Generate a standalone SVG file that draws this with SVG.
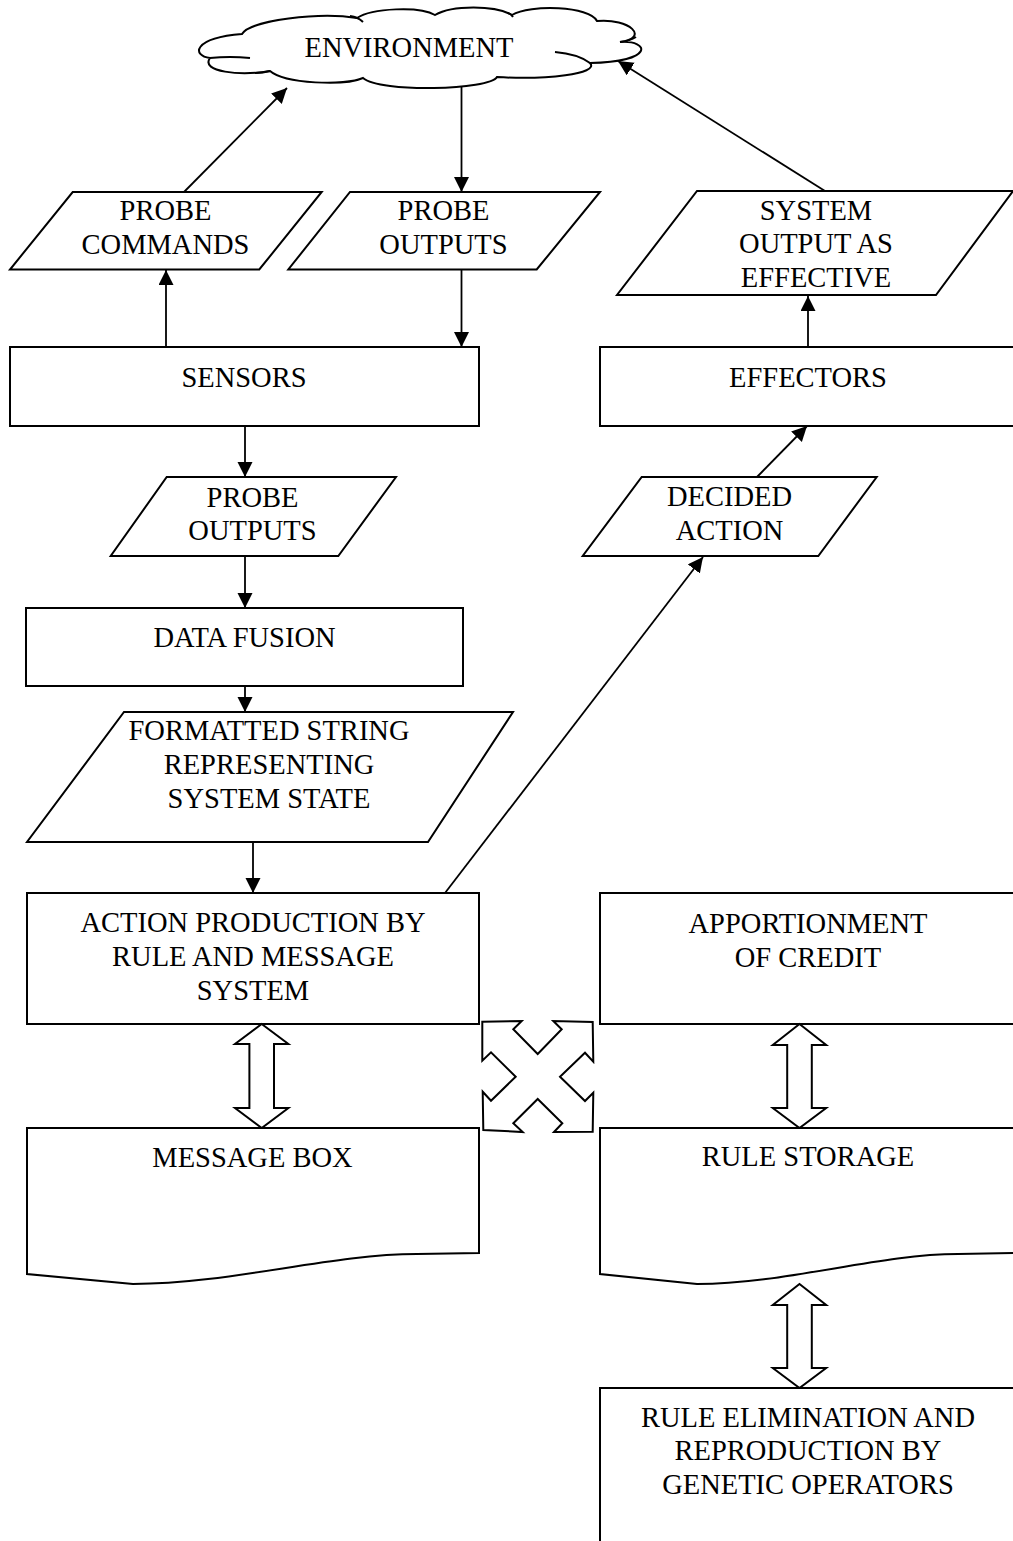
<svg xmlns="http://www.w3.org/2000/svg" width="1013" height="1541" viewBox="0 0 1013 1541" font-family="'Liberation Serif', 'Times New Roman', serif">
<defs>
<marker id="ah" markerUnits="userSpaceOnUse" markerWidth="16" markerHeight="16" refX="15" refY="7.5" orient="auto">
<path d="M0,0 L15,7.5 L0,15 Z" fill="#000"/>
</marker>
<style>
.s{fill:#fff;stroke:#000;stroke-width:2}
.i{fill:none;stroke:#000;stroke-width:2}
.c{fill:none;stroke:#000;stroke-width:1.8;marker-end:url(#ah)}
text{font-family:'Liberation Serif','Times New Roman',serif;font-size:28.5px;fill:#000;text-anchor:middle}
</style>
</defs>
<rect width="1013" height="1541" fill="#fff"/>

<g id="connectors">
<line class="c" x1="461.5" y1="87" x2="461.5" y2="192"/>
<line class="c" x1="461.5" y1="270" x2="461.5" y2="347"/>
<line class="c" x1="166" y1="347" x2="166" y2="270"/>
<line class="c" x1="184" y1="192" x2="287" y2="88"/>
<line class="c" x1="245" y1="426" x2="245" y2="477"/>
<line class="c" x1="245" y1="556" x2="245" y2="608"/>
<line class="c" x1="245" y1="686" x2="245" y2="712"/>
<line class="c" x1="253" y1="842" x2="253" y2="893"/>
<line class="c" x1="445" y1="893" x2="703" y2="557"/>
<line class="c" x1="757" y1="477" x2="807" y2="426"/>
<line class="c" x1="808" y1="347" x2="808" y2="296"/>
<line class="c" x1="825" y1="191" x2="618" y2="61"/>
</g>

<g id="environment">
<path class="s" d="M242,34 C250,20 320,12 357,18 C372,8 420,6 435,15 C452,5 495,5 512,15 C530,4 590,6 597,21 C630,18 650,38 620,42 C650,40 655,62 590,63 C600,74 545,80 497,77 C490,90 380,93 363,78 C345,86 285,84 270,71 C240,76 200,72 210,58 C192,56 192,38 242,34 Z"/>
<path class="i" d="M350,16 Q358,17 363,22 M620,42 Q630,41 636,37 M590,63 Q578,54 555,52 M270,71 Q263,73 255,73 M210,58 Q230,56 250,58 M508,13 Q511,14 513,17"/>
<text x="409" y="57">ENVIRONMENT</text>
</g>

<g id="probe-commands">
<polygon class="s" points="72.7,192 321.7,192 259.3,269.5 10,269.5"/>
<text x="165.5" y="220">PROBE</text>
<text x="165.5" y="254">COMMANDS</text>
</g>

<g id="probe-outputs-1">
<polygon class="s" points="350,192 600,192 536.7,269.5 288.3,269.5"/>
<text x="443.5" y="220">PROBE</text>
<text x="443.5" y="254">OUTPUTS</text>
</g>

<g id="system-output">
<polygon class="s" points="697,191 1013,191 936,295 617,295"/>
<text x="816" y="219.5">SYSTEM</text>
<text x="816" y="253">OUTPUT AS</text>
<text x="816" y="286.5">EFFECTIVE</text>
</g>

<g id="sensors">
<rect class="s" x="10" y="347" width="469" height="79"/>
<text x="244" y="387">SENSORS</text>
</g>

<g id="effectors">
<rect class="s" x="600" y="347" width="415" height="79"/>
<text x="808" y="387">EFFECTORS</text>
</g>

<g id="probe-outputs-2">
<polygon class="s" points="166.7,477 396,477 338.3,556 110.7,556"/>
<text x="252.5" y="506.5">PROBE</text>
<text x="252.5" y="540">OUTPUTS</text>
</g>

<g id="decided-action">
<polygon class="s" points="641.7,477 876.7,477 818.3,556 582.7,556"/>
<text x="729.5" y="506">DECIDED</text>
<text x="729.5" y="539.5">ACTION</text>
</g>

<g id="data-fusion">
<rect class="s" x="26" y="608" width="437" height="78"/>
<text x="244.5" y="647">DATA FUSION</text>
</g>

<g id="formatted-string">
<polygon class="s" points="124,712 513,712 428,842 27,842"/>
<text x="269" y="740">FORMATTED STRING</text>
<text x="269" y="774">REPRESENTING</text>
<text x="269" y="808">SYSTEM STATE</text>
</g>

<g id="action-production">
<rect class="s" x="27" y="893" width="452" height="131"/>
<text x="253" y="932">ACTION PRODUCTION BY</text>
<text x="253" y="966">RULE AND MESSAGE</text>
<text x="253" y="1000">SYSTEM</text>
</g>

<g id="apportionment">
<rect class="s" x="600" y="893" width="415" height="131"/>
<text x="808" y="933">APPORTIONMENT</text>
<text x="808" y="967">OF CREDIT</text>
</g>

<g id="block-arrows">
<path class="s" d="M261.7,1024 L288.4,1044 L274,1044 L274,1108 L288.4,1108 L261.7,1128 L235,1108 L249.4,1108 L249.4,1044 L235,1044 Z"/>
<path class="s" d="M799.5,1024 L826.2,1045 L811.8,1045 L811.8,1108 L826.2,1108 L799.5,1128 L772.8,1108 L787.2,1108 L787.2,1045 L772.8,1045 Z"/>
<path class="s" d="M799.5,1284 L826.2,1305 L811.8,1305 L811.8,1368 L826.2,1368 L799.5,1388 L772.8,1368 L787.2,1368 L787.2,1305 L772.8,1305 Z"/>
<path class="s" d="M482.3,1021.7 L521.7,1021 L513.3,1029.3 L537.7,1054 L561.7,1029.3 L553.3,1021 L592.7,1022 L593.3,1061.7 L585,1052.7 L560,1076.7 L585,1101 L593.3,1092.7 L592.7,1131.7 L554,1132 L562.3,1123.3 L537.7,1099 L513.3,1123.3 L522.7,1132 L483.3,1130 L482.7,1091.7 L491,1100.7 L515.7,1076.7 L491,1052.3 L482.3,1060.7 Z"/>
</g>

<g id="message-box">
<path class="s" d="M27,1128 H479 V1253 L417,1254 C330,1254 230,1284 133,1284 L27,1274 Z"/>
<text x="252.5" y="1166.5">MESSAGE BOX</text>
</g>

<g id="rule-storage">
<path class="s" d="M600,1128 H1015 V1253 L958,1254 C878,1254 786,1284 697,1284 L600,1274 Z"/>
<text x="808" y="1166">RULE STORAGE</text>
</g>

<g id="rule-elimination">
<rect class="s" x="600" y="1388" width="415" height="200"/>
<text x="808" y="1427">RULE ELIMINATION AND</text>
<text x="808" y="1460">REPRODUCTION BY</text>
<text x="808" y="1494">GENETIC OPERATORS</text>
</g>
</svg>
